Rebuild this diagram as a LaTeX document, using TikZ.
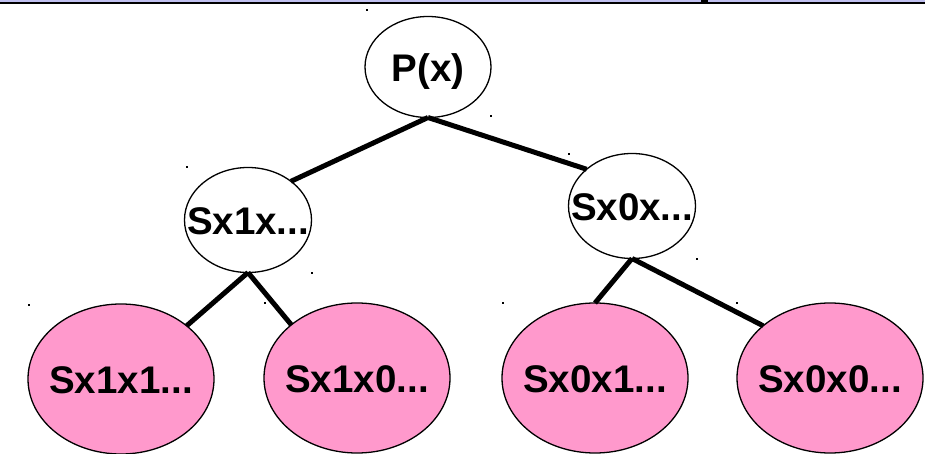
\documentclass[tikz,border=0pt]{standalone}
\usepackage{fontspec}
\setmainfont{Liberation Sans}
\usetikzlibrary{shapes.geometric}
\definecolor{leafpink}{RGB}{255,153,204}
\definecolor{bandblue}{RGB}{192,192,240}
% label set with no size of its own, so the ellipse keeps its given size
\newcommand{\treelabel}[1]{\makebox[0pt]{\raisebox{-0.38em}[0pt][0pt]{#1}}}
\tikzset{
  treenode/.style={ellipse, draw=black, line width=1.3pt, inner sep=0pt, outer sep=0pt,
    font=\fontsize{38.5}{40}\selectfont\bfseries},
  innernode/.style={treenode, fill=white, minimum width=127pt, minimum height=105pt},
  leafnode/.style={treenode, fill=leafpink, minimum width=186pt, minimum height=150pt},
  branch/.style={line width=5pt},
  speck/.style={fill=black}
}
\begin{document}
\begin{tikzpicture}[x=1pt,y=-1pt]
  \useasboundingbox (0,0) rectangle (925,454);
  % header strip
  \fill[bandblue] (0,0) rectangle (925,2.4);
  \fill[black] (0,2.4) rectangle (925,4.4);
  \fill[black] (701,0) rectangle (708,4.4);

  % tree nodes
  \node[innernode, minimum width=126pt, minimum height=101pt] (P) at (428,67) {\treelabel{P(x)}};
  \node[innernode] (A) at (248,220) {\treelabel{Sx1x...}};
  \node[innernode] (B) at (632,206) {\treelabel{Sx0x...}};
  \node[leafnode] (A1) at (121,379) {\treelabel{Sx1x1...}};
  \node[leafnode] (A0) at (357,378) {\treelabel{Sx1x0...}};
  \node[leafnode] (B1) at (595,378) {\treelabel{Sx0x1...}};
  \node[leafnode] (B0) at (830,378) {\treelabel{Sx0x0...}};

  % branches
  \draw[branch] (P.south) -- (A.42);
  \draw[branch] (P.south) -- (B.141);
  \draw[branch] (A.south) -- (A1.39);
  \draw[branch] (A.south) -- (A0.141);
  \draw[branch] (B.south) -- (B1.north);
  \draw[branch] (B.south) -- (B0.142);

  % small handle marks
  \foreach \px/\py in {367/10, 491/116, 187/167, 569/154, 312/273, 697/259,
                       29/305, 265/303, 503/303, 737/303}
    \fill[speck] (\px-1,\py-1) rectangle (\px+1,\py+1);
\end{tikzpicture}
\end{document}
